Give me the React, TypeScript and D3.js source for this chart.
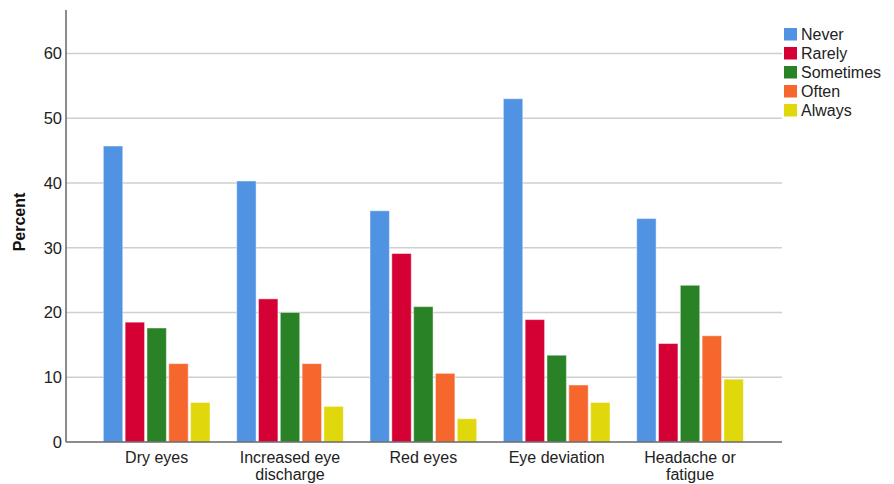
import React, { useEffect, useRef } from 'react';
import * as d3 from 'd3';

const categories = ['Dry eyes', 'Increased eye discharge', 'Red eyes', 'Eye deviation', 'Headache or fatigue'];
const categoryLines = [['Dry eyes'], ['Increased eye', 'discharge'], ['Red eyes'], ['Eye deviation'], ['Headache or', 'fatigue']];
const seriesNames = ['Never', 'Rarely', 'Sometimes', 'Often', 'Always'];
const seriesColors = ['#5193e3', '#d50033', '#2a8227', '#f5672c', '#e0d80d'];

const never = [45.7, 40.3, 35.7, 53.0, 34.5];
const rarely = [18.5, 22.1, 29.1, 18.9, 15.2];
const sometimes = [17.6, 20.0, 20.9, 13.4, 24.2];
const often = [12.1, 12.1, 10.6, 8.8, 16.4];
const always = [6.1, 5.5, 3.6, 6.1, 9.7];

const yTicks = [0, 10, 20, 30, 40, 50, 60];

const WIDTH = 894;
const HEIGHT = 484;
const FONT = '"Liberation Sans", Arial, sans-serif';

export default function App() {
  const svgRef = useRef<SVGSVGElement>(null);

  useEffect(() => {
    if (!svgRef.current) return;
    const svg = d3.select(svgRef.current);
    svg.selectAll('*').remove();

    const series = [never, rarely, sometimes, often, always];
    const axisLeft = 66;
    const axisRight = 782;

    const y = d3.scaleLinear().domain([0, 66.7]).range([442, 10]);

    const x0 = d3
      .scaleBand<string>()
      .domain(categories)
      .range([90, 756.7])
      .paddingInner(0.2)
      .paddingOuter(0.1);

    const x1 = d3
      .scaleBand<string>()
      .domain(seriesNames)
      .range([0, x0.bandwidth()])
      .paddingInner(0.11);

    // Grid lines
    svg.append('g')
      .selectAll('line')
      .data(yTicks.filter(t => t > 0))
      .join('line')
      .attr('x1', axisLeft)
      .attr('x2', axisRight)
      .attr('y1', d => y(d))
      .attr('y2', d => y(d))
      .attr('stroke', '#cfcfcf')
      .attr('stroke-width', 1.5);

    // Bars
    categories.forEach((cat, ci) => {
      const g = svg.append('g').attr('transform', `translate(${x0(cat)},0)`);
      seriesNames.forEach((s, si) => {
        const v = series[si][ci];
        g.append('rect')
          .attr('x', x1(s)!)
          .attr('y', y(v))
          .attr('width', x1.bandwidth())
          .attr('height', y(0) - y(v))
          .attr('fill', seriesColors[si])
          .attr('stroke', 'rgba(255,255,255,0.45)')
          .attr('stroke-width', 1);
      });
    });

    // Axes
    svg.append('line')
      .attr('x1', axisLeft)
      .attr('x2', axisLeft)
      .attr('y1', 10)
      .attr('y2', y(0))
      .attr('stroke', '#666')
      .attr('stroke-width', 1.5);
    svg.append('line')
      .attr('x1', axisLeft)
      .attr('x2', axisRight)
      .attr('y1', y(0))
      .attr('y2', y(0))
      .attr('stroke', '#666')
      .attr('stroke-width', 1.5);

    // Y tick labels
    svg.append('g')
      .selectAll('text')
      .data(yTicks)
      .join('text')
      .attr('x', 62)
      .attr('y', d => y(d))
      .attr('dy', '0.36em')
      .attr('text-anchor', 'end')
      .attr('font-family', FONT)
      .attr('font-size', 16.5)
      .attr('fill', '#222')
      .text(d => d);

    // X labels
    categories.forEach((cat, ci) => {
      const cx = x0(cat)! + x0.bandwidth() / 2;
      const t = svg.append('text')
        .attr('x', cx)
        .attr('y', 463)
        .attr('text-anchor', 'middle')
        .attr('font-family', FONT)
        .attr('font-size', 16)
        .attr('fill', '#222');
      categoryLines[ci].forEach((line, li) => {
        t.append('tspan')
          .attr('x', cx)
          .attr('dy', li === 0 ? 0 : 17)
          .text(line);
      });
    });

    // Y axis title
    svg.append('text')
      .attr('transform', `translate(25,222) rotate(-90)`)
      .attr('text-anchor', 'middle')
      .attr('font-family', FONT)
      .attr('font-weight', 'bold')
      .attr('font-size', 16)
      .attr('fill', '#111')
      .text('Percent');

    // Legend
    const legend = svg.append('g').attr('transform', 'translate(784,28)');
    seriesNames.forEach((s, i) => {
      const row = legend.append('g').attr('transform', `translate(0,${i * 19})`);
      row.append('rect')
        .attr('width', 13)
        .attr('height', 12.5)
        .attr('fill', seriesColors[i]);
      row.append('text')
        .attr('x', 17)
        .attr('y', 6.5)
        .attr('dy', '0.36em')
        .attr('font-family', FONT)
        .attr('font-size', 16)
        .attr('fill', '#222')
        .text(s);
    });
  }, []);

  return (
    <svg
      ref={svgRef}
      width={WIDTH}
      height={HEIGHT}
      style={{ position: 'absolute', left: 0, top: 0, background: '#fff' }}
    />
  );
}
